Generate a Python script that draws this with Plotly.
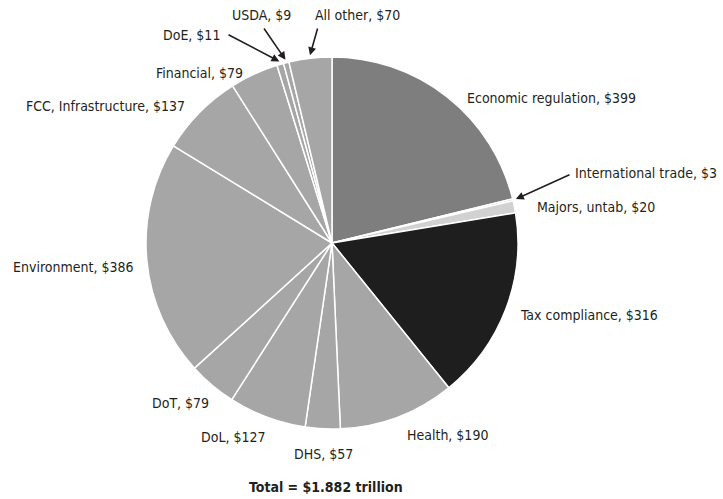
import math
import plotly.graph_objects as go

# Regulatory cost by category, $ billions (clockwise from 12 o'clock)
categories = ["Economic regulation", "International trade", "Majors, untab", "Tax compliance",
              "Health", "DHS", "DoL", "DoT", "Environment", "FCC, Infrastructure",
              "Financial", "DoE", "USDA", "All other"]
values = [399, 3, 20, 316, 190, 57, 127, 79, 386, 137, 79, 11, 9, 70]
slice_colors = ["#7d7e7d", "#c9cac9", "#d0d1d0", "#1e1e1e",
                "#a5a6a5", "#a5a6a5", "#a5a6a5", "#a5a6a5", "#a5a6a5", "#a5a6a5",
                "#a5a6a5", "#a5a6a5", "#a5a6a5", "#a5a6a5"]
total_label = "Total = $1.882 trillion"

W, H = 723, 499
CX, CY, R = 332, 243, 186  # pie centre and radius in pixels
FONT = "DejaVu Sans Condensed, sans-serif"
FS = 14

fig = go.Figure(go.Pie(
    labels=categories, values=values, sort=False, direction="clockwise", rotation=0,
    marker=dict(colors=slice_colors, line=dict(color="white", width=1.5)),
    textinfo="none", hoverinfo="label+value", showlegend=False,
    domain=dict(x=[(CX - R) / W, (CX + R) / W], y=[(H - CY - R) / H, (H - CY + R) / H]),
))


def px(x, y):
    return x / W, 1 - y / H


def mid_angle(name):
    i = categories.index(name)
    before = sum(values[:i])
    return (before + values[i] / 2) / sum(values) * 2 * math.pi


def label_text(name):
    return f"{name}, ${values[categories.index(name)]}"


# Labels placed beside their slices: (category, x, y, anchor)
plain = [
    ("Economic regulation", 465, 98, "left"),
    ("Majors, untab", 535, 207, "left"),
    ("Tax compliance", 518, 315, "left"),
    ("Health", 405, 435, "left"),
    ("DHS", 292, 454, "left"),
    ("DoL", 199, 437, "left"),
    ("DoT", 150, 403, "left"),
    ("Environment", 11, 267, "left"),
    ("FCC, Infrastructure", 187, 106, "right"),
    ("Financial", 245, 73, "right"),
]
annotations = []
for name, x, y, anchor in plain:
    ax_, ay_ = px(x, y)
    annotations.append(dict(x=ax_, y=ay_, xref="paper", yref="paper", text=label_text(name),
                            showarrow=False, xanchor=anchor, yanchor="middle",
                            font=dict(family=FONT, size=FS, color="#231f20")))

# Labels for thin slices, with arrows pointing to the slice edge:
# (category, text x, text y, anchor, tail x, tail y)
arrowed = [
    ("International trade", 573, 173, "left", 571, 174),
    ("DoE", 222, 35, "right", 227, 34),
    ("USDA", 230, 15, "left", 263, 27),
    ("All other", 313, 15, "left", 318, 27),
]
for name, tx, ty, anchor, tailx, taily in arrowed:
    a = mid_angle(name)
    tipx = CX + (R + 3) * math.sin(a)
    tipy = CY - (R + 3) * math.cos(a)
    x0, y0 = px(tipx, tipy)
    annotations.append(dict(x=x0, y=y0, xref="paper", yref="paper", text="",
                            showarrow=True, ax=tailx - tipx, ay=taily - tipy,
                            arrowhead=2, arrowsize=1, arrowwidth=1.6, arrowcolor="#231f20"))
    lx, ly = px(tx, ty)
    annotations.append(dict(x=lx, y=ly, xref="paper", yref="paper", text=label_text(name),
                            showarrow=False, xanchor=anchor, yanchor="middle",
                            font=dict(family=FONT, size=FS, color="#231f20")))

tx, ty = px(326, 487)
annotations.append(dict(x=tx, y=ty, xref="paper", yref="paper", text=f"<b>{total_label}</b>",
                        showarrow=False, xanchor="center", yanchor="middle",
                        font=dict(family=FONT, size=FS, color="#231f20")))

fig.update_layout(width=W, height=H, margin=dict(l=0, r=0, t=0, b=0),
                  paper_bgcolor="white", plot_bgcolor="white", annotations=annotations)
fig.write_html("out.html")
